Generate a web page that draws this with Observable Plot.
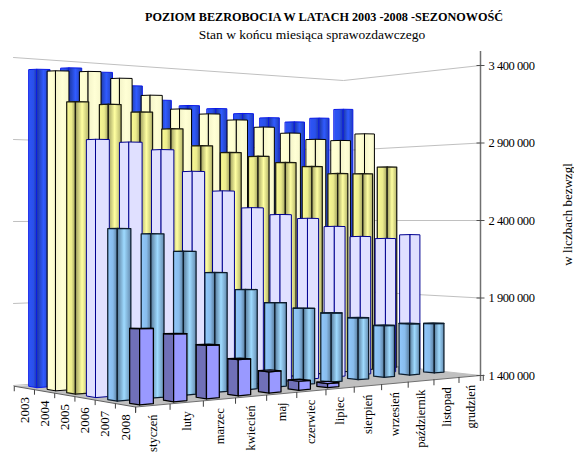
<!DOCTYPE html>
<html><head><meta charset="utf-8">
<script src="https://cdn.jsdelivr.net/npm/d3@7"></script>
<script src="https://cdn.jsdelivr.net/npm/@observablehq/plot@0.6"></script>
<style>
html,body{margin:0;padding:0;background:#fff;overflow:hidden}
#head{position:relative;height:42px;font-family:"Liberation Serif",serif;color:#000}
#t{position:absolute;left:0;width:648px;text-align:center;top:10px;font-weight:bold;font-size:12.2px;line-height:14px;white-space:nowrap}
#s{position:absolute;left:0;width:624px;text-align:center;top:28px;font-size:13.5px;line-height:14px;white-space:nowrap}
.vt text{letter-spacing:-0.45px}
</style></head><body>
<div id="head"><div id="t">POZIOM BEZROBOCIA W LATACH 2003 -2008 -SEZONOWOŚĆ</div><div id="s">Stan w końcu miesiąca sprawozdawczego</div></div>
<div id="chart"></div>
<script>
const years = ["2003","2004","2005","2006","2007","2008"];
const months = ["styczeń","luty","marzec","kwiecień","maj","czerwiec","lipiec","sierpień","wrzesień","październik","listopad","grudzień"];
const valueTicks = [1400000,1900000,2400000,2900000,3400000];
const v2003 = [3321,3339,3322,3247,3165,3140,3130,3107,3089,3071,3108,3182];
const v2004 = [3287,3292,3260,3165,3088,3065,3035,2997,2966,2933,2934,2989];
const v2005 = [3086,3076,3037,2942,2845,2807,2788,2754,2733,2692,2696,2747];
const v2006 = [2855,2842,2801,2676,2561,2460,2418,2394,2343,2278,2264,2288];
const v2007 = [2350,2316,2212,2084,1979,1894,1852,1815,1777,1720,1722,1714];
const v2008 = [1808,1768,1694,1602,1520,1452,1424];
const seriesValues = [v2003,v2004,v2005,v2006,v2007,v2008];

const baseColors = ["#2a50ea","#ffffd2","#ecec8c","#e0e0ff","#88bcec","#9999ff"];
const edgeColors = ["#0a1ae8","#000000","#1c1c10","#000090","#0c1c2c","#000000"];
const shade = [1,0.12,1.1,0,1.2,0];

// 3D view: floor homography (month index, row index) -> page position
const M = 11, R = 5;
function homography(p00,p10,p01,p11){
  const [x0,y0]=p00,[x1,y1]=p10,[x2,y2]=p01,[x3,y3]=p11;
  const dx1=x1-x3,dx2=x2-x3,dy1=y1-y3,dy2=y2-y3,sx=x0-x1+x3-x2,sy=y0-y1+y3-y2;
  const den=dx1*dy2-dx2*dy1;
  const g=(sx*dy2-dx2*sy)/den,h=(dx1*sy-sx*dy1)/den;
  const a=x1-x0+g*x1,b=x2-x0+h*x2,d=y1-y0+g*y1,e=y2-y0+h*y2;
  return (m,r)=>{const u=m/M,v=r/R,w=g*u+h*v+1;return [(a*u+b*v+x0)/w,(d*u+e*v+y0)/w];};
}
const floorAt = homography([39,386],[343,362],[141,403],[458,374]);
const unitsAt = (m,r)=>{const u=m/M,v=r/R;return (82.5*(1-u)+71*u)*(1-v)+(92*(1-u)+79*u)*v;};
const hw = 0.2, hd = 0.22, eye = 85;

const faces = seriesValues.map((vals,r)=>{
  const left=[],right=[],top=[];
  vals.forEach((val,m)=>{
    const h=(val-1400)/500*unitsAt(m,r);
    const C=floorAt(m,r);
    const L=floorAt(m-hw,r-hd),F=floorAt(m-hw,r+hd),Rr=floorAt(m+hw,r+hd),B=floorAt(m+hw,r-hd);
    const t=Math.max(-0.25,1-h/eye);
    const topY=p=>C[1]-h+(p[1]-C[1])*t;
    const id=`${r}-${m}`;
    [[L,L[1]],[F,F[1]],[F,topY(F)],[L,topY(L)]].forEach(([p,y])=>left.push({id,x:p[0],y}));
    [[F,F[1]],[Rr,Rr[1]],[Rr,topY(Rr)],[F,topY(F)]].forEach(([p,y])=>right.push({id,x:p[0],y}));
    if(t>0) [L,F,Rr,B].forEach(p=>top.push({id,x:p[0],y:topY(p)}));
  });
  return {r,left,right,top};
});

const wallY = (k,x)=>{ // value gridline on the two back walls
  const i=(k-1400000)/500000;
  return {a:[13,385-82*i],b:[343,360-70*i],c:[480,375-77.5*i]}[x];
};
const gridPts = valueTicks.flatMap(k=>["a","b","c"].map(w=>{const [x,y]=wallY(k,w);return {k,x,y};}));
const c0=floorAt(-0.5,-0.5),c1=floorAt(-0.5,5.5);
const floorPts=[c0,c1,[480,375],[343,360]].map(p=>({x:p[0],y:p[1]}));
const edgeL=[c0,c1].map(p=>({x:p[0],y:p[1]}));
const lerp=(p,q,t)=>[p[0]+(q[0]-p[0])*t,p[1]+(q[1]-p[1])*t];
const frontAt=t=>lerp(c1,[480,375],t);
const leftTicks=d3.range(0,7).map(i=>lerp(c0,c1,i/6));
const monthTicks=d3.range(0,13).map(i=>floorAt(i-0.5,5.5));

function defs(){
  const s=d3.create("svg:defs");
  baseColors.forEach((col,i)=>{
    const c=d3.color(col),k=shade[i];
    const mk=(id,stops)=>{const g=s.append("linearGradient").attr("id",id);stops.forEach(([o,cc])=>g.append("stop").attr("offset",o).attr("stop-color",cc));};
    if(i===5){mk("L5",[[0,"#7070b8"],[1,"#7070b8"]]);mk("R5",[[0,col],[1,col]]);return;}
    mk("L"+i,[[0,c.brighter(0.15*k).formatHex()],[0.55,c.formatHex()],[1,c.darker(1*k).formatHex()]]);
    mk("R"+i,[[0,c.darker(1*k).formatHex()],[0.5,c.brighter(0.35*k).formatHex()],[1,c.darker(0.7*k).formatHex()]]);
  });
  return s.node();
}
const font="Liberation Serif";
const marks=[defs];
marks.push(Plot.line(floorPts,{x:"x",y:"y",fill:"#c0c0c0",stroke:"none",curve:"linear-closed"}));
marks.push(Plot.line(gridPts,{x:"x",y:"y",z:"k",stroke:"#c0c0c0",strokeWidth:1}));
marks.push(Plot.line(edgeL,{x:"x",y:"y",stroke:"#606060",strokeWidth:1}));
marks.push(Plot.line([frontAt(0),frontAt(1)].map(p=>({x:p[0],y:p[1]})),{x:"x",y:"y",stroke:"#707070",strokeWidth:1}));
faces.forEach(({r,left,right,top})=>{
  const e=edgeColors[r];
  const sw=r===1||r===3||r===0?1:1.25;
  marks.push(Plot.line(left,{x:"x",y:"y",z:"id",fill:`url(#L${r})`,stroke:e,strokeWidth:sw,curve:"linear-closed"}));
  marks.push(Plot.line(right,{x:"x",y:"y",z:"id",fill:`url(#R${r})`,stroke:e,strokeWidth:sw,curve:"linear-closed"}));
  if(top.length) marks.push(Plot.line(top,{x:"x",y:"y",z:"id",fill:baseColors[r],stroke:e,strokeWidth:sw,curve:"linear-closed"}));
});
// ticks on floor edges
marks.push(Plot.link(leftTicks,{x1:d=>d[0],y1:d=>d[1],x2:d=>d[0],y2:d=>d[1]+5,stroke:"#404040",strokeWidth:1}));
marks.push(Plot.link(monthTicks,{x1:d=>d[0],y1:d=>d[1],x2:d=>d[0],y2:d=>d[1]+6,stroke:"#404040",strokeWidth:1}));
// value axis
marks.push(Plot.ruleX([480],{y1:51,y2:381,stroke:"#707070",strokeWidth:1.5}));
const axisY=k=>375-77.5*(k-1400000)/500000;
marks.push(Plot.link(valueTicks,{x1:476,x2:484,y1:axisY,y2:axisY,stroke:"#505050",strokeWidth:1}));
marks.push(Plot.text(valueTicks,{className:"vt",x:()=>488,y:axisY,text:k=>d3.format(",")(k).replace(/,/g," "),textAnchor:"start",fontSize:12.5,fontFamily:font,fill:"#000"}));
// category labels
marks.push(Plot.text(years,{x:(d,i)=>lerp(c0,c1,(i+0.5)/6)[0],y:(d,i)=>lerp(c0,c1,(i+0.5)/6)[1]+9,text:d=>d,rotate:-90,textAnchor:"end",fontSize:13,fontFamily:font,fill:"#000"}));
marks.push(Plot.text(months,{x:(d,i)=>floorAt(i,5.5)[0],y:(d,i)=>floorAt(i,5.5)[1]+9,text:d=>d,rotate:-90,textAnchor:"end",fontSize:12.5,fontFamily:font,fill:"#000"}));
marks.push(Plot.text(["w liczbach bezwzgl"],{x:()=>567,y:()=>214,text:d=>d,rotate:-90,textAnchor:"middle",fontSize:13,fontFamily:font,fill:"#000"}));

const chart=Plot.plot({width:574,height:410,margin:0,style:{background:"transparent",overflow:"hidden"},
  x:{domain:[0,574],range:[0,574],axis:null},y:{domain:[42,452],range:[0,410],axis:null},marks});
document.getElementById("chart").append(chart);
</script></body></html>
